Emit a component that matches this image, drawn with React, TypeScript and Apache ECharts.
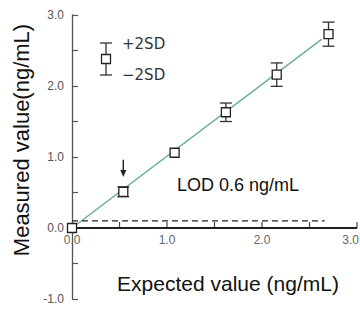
import React, { useEffect, useRef } from "react";
import * as echarts from "echarts";

// Data
const expected = [0, 0.54, 1.08, 1.62, 2.155, 2.7];
const measured = [0, 0.51, 1.06, 1.63, 2.16, 2.73];
const sd2 = [0, 0.07, 0.0, 0.13, 0.165, 0.17];
const fitX = [0, 2.63];
const fitY = [0, 2.66];
const lodLineX = [0, 2.66];
const lodLineY = [0.1, 0.1];
const zeroLineX = [0, 3];
const zeroLineY = [0, 0];
const arrowX = 0.54;
const arrowTop = 0.96;
const arrowTip = 0.72;
const xTicks = [0, 1, 2, 3];
const xMinorTicks = [0.5, 1, 1.5, 2, 2.5, 3];
const yTicks = [-1, 0, 1, 2, 3];

export default function App() {
  const ref = useRef<HTMLDivElement>(null);
  useEffect(() => {
    if (!ref.current) return;
    const chart = echarts.init(ref.current, undefined, { renderer: "svg" });
    const tickFont = "Liberation Sans, Arial, sans-serif";
    const fmt = (v: number, ticks: number[]) =>
      ticks.some((t) => Math.abs(t - v) < 1e-9) ? v.toFixed(1) : "";
    const option: any = {
      animation: false,
      backgroundColor: "#fff",
      grid: { left: 72, right: 3, top: 15, bottom: 10, containLabel: false },
      xAxis: {
        type: "value",
        min: 0,
        max: 3,
        interval: 0.5,
        axisLine: { show: false },
        axisTick: { show: false },
        axisLabel: { show: false },
        splitLine: { show: false },
      },
      yAxis: {
        type: "value",
        min: -1,
        max: 3,
        interval: 0.5,
        axisLine: { show: true, onZero: false, lineStyle: { color: "#555", width: 1.3 } },
        axisTick: { show: true, inside: true, length: 6, lineStyle: { color: "#555", width: 1.2 } },
        axisLabel: {
          formatter: (v: number) => fmt(v, yTicks),
          color: "#555",
          fontSize: 12,
          fontFamily: tickFont,
          margin: 8,
        },
        splitLine: {
          show: true,
          lineStyle: {
            width: 1.6,
            color: [
              "rgba(0,0,0,0)",
              "rgba(0,0,0,0)",
              "#111",
              "rgba(0,0,0,0)",
              "rgba(0,0,0,0)",
              "rgba(0,0,0,0)",
              "rgba(0,0,0,0)",
              "rgba(0,0,0,0)",
              "rgba(0,0,0,0)",
            ],
          },
        },
      },
      series: [
        {
          // x axis line along y = 0
          type: "line",
          data: zeroLineX.map((x, i) => [x, zeroLineY[i]]),
          symbol: "none",
          silent: true,
          clip: false,
          lineStyle: { color: "#111", width: 1.6 },
          z: 10,
        },
        {
          // upward x ticks every 0.5 along y = 0
          type: "custom",
          data: xMinorTicks.map((t) => [t, 0]),
          silent: true,
          renderItem: (params: any, api: any) => {
            const p = api.coord([api.value(0), api.value(1)]);
            return {
              type: "rect",
              shape: { x: p[0] - 0.6, y: p[1] - 6, width: 1.2, height: 6 },
              style: { fill: "#444" },
            };
          },
          z: 10,
        },
        {
          type: "line",
          data: fitX.map((x, i) => [x, fitY[i]]),
          symbol: "none",
          lineStyle: { color: "#6aae9b", width: 1.5 },
          z: 2,
        },
        {
          type: "line",
          data: lodLineX.map((x, i) => [x, lodLineY[i]]),
          symbol: "none",
          lineStyle: { color: "#222", width: 1.3, type: [6, 4] },
          z: 2,
        },
        {
          type: "custom",
          data: expected.map((x, i) => [x, measured[i], sd2[i]]),
          renderItem: (params: any, api: any) => {
            const x = api.value(0);
            const y = api.value(1);
            const e = api.value(2);
            if (!e) return { type: "group", children: [] };
            const top = api.coord([x, y + e]);
            const bot = api.coord([x, y - e]);
            const hw = 6;
            const style = { stroke: "#333", lineWidth: 1.3 };
            return {
              type: "group",
              children: [
                { type: "line", shape: { x1: top[0], y1: top[1], x2: bot[0], y2: bot[1] }, style },
                { type: "line", shape: { x1: top[0] - hw, y1: top[1], x2: top[0] + hw, y2: top[1] }, style },
                { type: "line", shape: { x1: bot[0] - hw, y1: bot[1], x2: bot[0] + hw, y2: bot[1] }, style },
              ],
            };
          },
          z: 3,
        },
        {
          type: "scatter",
          data: expected.map((x, i) => [x, measured[i]]),
          symbol: "rect",
          symbolSize: 9,
          itemStyle: { color: "#fff", borderColor: "#222", borderWidth: 1.3, opacity: 1 },
          z: 11,
        },
        {
          // x tick labels placed just under y = 0, where the x axis crosses
          type: "custom",
          data: xTicks.map((t) => [t, 0]),
          silent: true,
          clip: false,
          renderItem: (params: any, api: any) => {
            const p = api.coord([api.value(0), api.value(1)]);
            const isLast = params.dataIndex === xTicks.length - 1;
            return {
              type: "text",
              x: isLast ? Math.min(p[0] + 8, 359) : p[0],
              y: p[1] + 6,
              style: {
                text: Number(api.value(0)).toFixed(1),
                fill: "#666",
                font: "12px " + tickFont,
                textAlign: isLast ? "right" : "center",
                textVerticalAlign: "top",
              },
            };
          },
          z: 1,
        },
        {
          type: "custom",
          data: [[arrowX, arrowTop, arrowTip]],
          renderItem: (params: any, api: any) => {
            const a = api.coord([api.value(0), api.value(1)]);
            const b = api.coord([api.value(0), api.value(2)]);
            return {
              type: "group",
              children: [
                { type: "line", shape: { x1: a[0], y1: a[1], x2: b[0], y2: b[1] - 5 }, style: { stroke: "#222", lineWidth: 1.4 } },
                {
                  type: "polygon",
                  shape: { points: [[b[0] - 3, b[1] - 7], [b[0] + 3, b[1] - 7], [b[0], b[1]]] },
                  style: { fill: "#222" },
                },
              ],
            };
          },
          z: 5,
        },
      ],
      graphic: [
        // legend symbol
        { type: "line", shape: { x1: 106, y1: 43, x2: 106, y2: 75 }, style: { stroke: "#333", lineWidth: 1.3 } },
        { type: "line", shape: { x1: 100, y1: 43, x2: 112, y2: 43 }, style: { stroke: "#333", lineWidth: 1.3 } },
        { type: "line", shape: { x1: 100, y1: 75, x2: 112, y2: 75 }, style: { stroke: "#333", lineWidth: 1.3 } },
        { type: "rect", shape: { x: 101.5, y: 54.5, width: 9, height: 9 }, style: { fill: "#fff", stroke: "#222", lineWidth: 1.3 } },
        {
          type: "text",
          x: 122,
          y: 44,
          style: { text: "+2SD", font: "15px DejaVu Sans, sans-serif", fill: "#333", textAlign: "left", textVerticalAlign: "middle" },
        },
        {
          type: "text",
          x: 122,
          y: 75,
          style: { text: "\u22122SD", font: "15px DejaVu Sans, sans-serif", fill: "#333", textAlign: "left", textVerticalAlign: "middle" },
        },
        {
          type: "text",
          x: 177,
          y: 185,
          style: { text: "LOD 0.6 ng/mL", font: "18px Liberation Sans, Arial, sans-serif", fill: "#111", textAlign: "left", textVerticalAlign: "middle" },
        },
        {
          type: "text",
          x: 228,
          y: 283,
          style: { text: "Expected value (ng/mL)", font: "21px Liberation Sans, Arial, sans-serif", fill: "#111", textAlign: "center", textVerticalAlign: "middle" },
        },
        {
          type: "text",
          x: 21,
          y: 140,
          rotation: Math.PI / 2,
          style: { text: "Measured value(ng/mL)", font: "22px Liberation Sans, Arial, sans-serif", fill: "#111", textAlign: "center", textVerticalAlign: "middle" },
        },
      ],
    };
    chart.setOption(option);
    return () => chart.dispose();
  }, []);
  return (
    <div
      ref={ref}
      style={{ position: "fixed", left: 0, top: 0, width: 360, height: 309, background: "#fff" }}
    />
  );
}
